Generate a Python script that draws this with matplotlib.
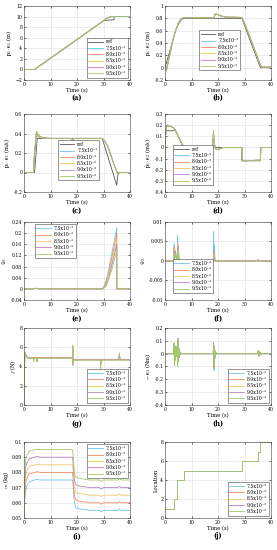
import matplotlib
matplotlib.use("Agg")
import matplotlib.pyplot as plt

# series names and colours
names = ["7.5", "8.0", "8.5", "9.0", "9.5"]
colors = ["#6fc3ec", "#f28c5e", "#f5c46a", "#b784c4", "#9fca6a"]
ref_color = "#555555"
time_ticks = [0, 10, 20, 30, 40]

# (a) p1.e1
a_t_ref = [0, 4, 30, 31, 34, 34, 40]
a_y_ref = [0, 0, 9.2, 9.3, 9.4, 10, 10]
a_t = [0, 4, 30, 31, 32, 33, 40]
a_y = [0, 0, 9.2, 9.6, 9.85, 10, 10]

# (b) p1.e2
b_t_ref = [0, 1, 2, 3, 4, 5, 6, 7, 29, 36, 40]
b_y_ref = [0, 0.15, 0.3, 0.45, 0.6, 0.7, 0.77, 0.8, 0.8, 0, 0]
b_t = [0, 0.5, 1, 2, 3, 4, 5, 6, 7, 18.5, 19, 20, 21, 22, 23, 29, 30, 32, 34, 36, 36.5, 40]
b_y = [0, -0.05, 0.05, 0.25, 0.45, 0.6, 0.72, 0.79, 0.81, 0.81, 0.875, 0.86, 0.84,
       0.83, 0.82, 0.815, 0.72, 0.5, 0.27, 0.04, 0.01, 0.01]

# (c) p1dot.e1
c_t_ref = [0, 4, 5, 29.5, 35, 35.5, 40]
c_y_ref = [0, 0, 0.35, 0.35, -0.13, 0, 0]
c_t = [0, 3.6, 3.7, 4.7, 4.9, 5.1, 5.3, 5.5, 5.8, 6.2, 7, 10, 17.5, 18, 18.5, 19,
       29, 30, 31, 32, 33, 34, 35, 35.5, 36, 40]
c_y = [0, 0, 0.1, 0.42, 0.38, 0.41, 0.37, 0.39, 0.36, 0.37, 0.355, 0.35, 0.35, 0.345,
       0.335, 0.35, 0.35, 0.34, 0.30, 0.24, 0.16, 0.08, 0.01, -0.02, 0, 0]

# (d) p1dot.e2
d_t_ref = [0, 4, 7, 29, 29, 36, 36, 40]
d_y_ref = [0.15, 0.15, 0, 0, -0.12, -0.12, 0, 0]
d_t = [0, 0.2, 0.5, 1, 1.5, 2, 3, 3.5, 4, 5, 6, 7, 7.5, 18, 18.3, 18.5, 19, 19.5,
       21, 22, 29, 29.3, 30, 35, 36, 36.2, 40]
d_y = [-0.3, 0.1, 0.18, 0.2, 0.19, 0.19, 0.18, 0.17, 0.15, 0.1, 0.05, 0.01, 0, 0,
       0.15, 0.05, -0.01, -0.02, -0.01, 0, 0, -0.12, -0.12, -0.115, -0.115, 0, 0]

# (e) Psi1
e_t = [0, 3.5, 4, 4.5, 5, 5.5, 29.5, 30, 31, 32, 33, 34, 35, 35, 40]
e_y = [
    [0, 0, 0.002, 0.001, 0.002, 0, 0, 0.005, 0.03, 0.07, 0.12, 0.17, 0.22, 0, 0],
    [0, 0, 0.002, 0.001, 0.002, 0, 0, 0.004, 0.025, 0.06, 0.105, 0.15, 0.20, 0, 0],
    [0, 0, 0.002, 0.001, 0.002, 0, 0, 0.003, 0.02, 0.05, 0.09, 0.135, 0.18, 0, 0],
    [0, 0, 0.002, 0.001, 0.002, 0, 0, 0.002, 0.015, 0.04, 0.08, 0.12, 0.16, 0, 0],
    [0, 0, 0.002, 0.001, 0.002, 0, 0, 0.001, 0.01, 0.035, 0.065, 0.10, 0.14, 0, 0],
]

# (f) Psi2
f_t = [0, 3.3, 3.45, 3.6, 3.75, 4.6, 4.75, 4.9, 5.05, 5.3, 18.2, 18.35, 18.5, 18.65,
       18.9, 34.8, 35, 35.3, 40]
f_y = [
    [0, 0, 0.0043, 0.001, 0.003, 0, 0.0065, 0.001, 0.004, 0, 0, 0.0075, 0.002, 0.004, 0, 0, 0.0005, 0, 0],
    [0, 0, 0.0035, 0.001, 0.0025, 0, 0.0045, 0.001, 0.003, 0, 0, 0.0025, 0.001, 0.0015, 0, 0, 0.0004, 0, 0],
    [0, 0, 0.003, 0.001, 0.002, 0, 0.004, 0.001, 0.0025, 0, 0, 0.0015, 0.0005, 0.001, 0, 0, 0.0003, 0, 0],
    [0, 0, 0.0025, 0.0005, 0.0018, 0, 0.0035, 0.0008, 0.002, 0, 0, 0.001, 0.0004, 0.0008, 0, 0, 0.0002, 0, 0],
    [0, 0, 0.002, 0.0005, 0.0015, 0, 0.003, 0.0005, 0.0018, 0, 0, 0.0008, 0.0003, 0.0005, 0, 0, 0.0002, 0, 0],
]

# (g) f
g_t = [0, 0.3, 0.6, 1, 1.5, 3, 3.5, 3.6, 3.8, 4.8, 4.9, 5.1, 6, 18.3, 18.4, 18.5,
       18.6, 18.8, 19.5, 28.8, 28.9, 29.1, 35.8, 36, 36.2, 36.4, 40]
g_y = [
    [0, 5.4, 5.2, 5.0, 4.95, 4.95, 4.95, 4.7, 4.95, 4.95, 4.6, 4.95, 4.95, 4.95, 5.8, 4.1, 4.5, 4.75, 4.75, 4.75, 4.4, 4.75, 4.75, 5.2, 4.75, 4.75, 4.75],
    [0, 5.4, 5.2, 5.0, 4.93, 4.93, 4.93, 4.65, 4.93, 4.93, 4.6, 4.93, 4.93, 4.93, 5.9, 4.2, 4.5, 4.72, 4.72, 4.72, 4.2, 4.72, 4.72, 5.25, 4.72, 4.72, 4.72],
    [0, 5.45, 5.25, 5.0, 4.9, 4.9, 4.9, 4.6, 4.9, 4.9, 4.55, 4.9, 4.9, 4.9, 6.0, 4.3, 4.55, 4.7, 4.7, 4.7, 4.0, 4.7, 4.7, 5.3, 4.7, 4.7, 4.7],
    [0, 5.45, 5.25, 5.0, 4.88, 4.88, 4.88, 4.55, 4.88, 4.88, 4.5, 4.88, 4.88, 4.88, 6.1, 4.4, 4.55, 4.68, 4.68, 4.68, 3.9, 4.68, 4.68, 5.35, 4.68, 4.68, 4.68],
    [0, 5.5, 5.3, 5.05, 4.86, 4.86, 4.86, 4.5, 4.86, 4.86, 4.5, 4.86, 4.86, 4.86, 6.2, 4.45, 4.6, 4.66, 4.66, 4.66, 3.7, 4.66, 4.66, 5.4, 4.66, 4.66, 4.66],
]

# (h) tau.e3
h_t = [0, 3.3, 3.45, 3.6, 3.75, 3.9, 4.05, 4.2, 4.4, 4.6, 4.75, 4.9, 5.05, 5.2, 5.35,
       5.5, 5.7, 5.9, 6.2, 18.2, 18.35, 18.5, 18.65, 18.8, 18.95, 19.1, 19.3, 19.6,
       20, 35, 35.2, 35.4, 35.6, 35.8, 36, 36.3, 36.7, 37.2, 40]
h_y = [
    [0, 0, 0.07, -0.08, 0.05, -0.04, 0.03, -0.02, 0, 0.06, -0.09, 0.12, -0.06, 0.04, -0.03, 0.02, -0.01, 0.005, 0,
     0, 0.09, -0.13, 0.06, -0.04, 0.02, -0.01, 0.005, 0, 0,
     0, 0.02, -0.02, 0.015, -0.01, 0.008, -0.005, 0.003, 0, 0],
    [0, 0, 0.075, -0.085, 0.055, -0.045, 0.03, -0.02, 0, 0.055, -0.095, 0.11, -0.06, 0.04, -0.03, 0.02, -0.01, 0.005, 0,
     0, 0.08, -0.11, 0.055, -0.035, 0.02, -0.01, 0.005, 0, 0,
     0, 0.02, -0.02, 0.015, -0.01, 0.008, -0.005, 0.003, 0, 0],
    [0, 0, 0.08, -0.09, 0.06, -0.05, 0.03, -0.02, 0, 0.05, -0.1, 0.1, -0.06, 0.04, -0.03, 0.02, -0.01, 0.005, 0,
     0, 0.075, -0.1, 0.05, -0.03, 0.02, -0.01, 0.005, 0, 0,
     0, 0.02, -0.02, 0.015, -0.01, 0.008, -0.005, 0.003, 0, 0],
    [0, 0, 0.08, -0.09, 0.06, -0.05, 0.03, -0.02, 0, 0.05, -0.1, 0.1, -0.06, 0.04, -0.03, 0.02, -0.01, 0.005, 0,
     0, 0.07, -0.1, 0.05, -0.03, 0.02, -0.01, 0.005, 0, 0,
     0, 0.02, -0.02, 0.015, -0.01, 0.008, -0.005, 0.003, 0, 0],
    [0, 0, 0.085, -0.095, 0.06, -0.05, 0.035, -0.02, 0, 0.05, -0.1, 0.1, -0.065, 0.045, -0.03, 0.02, -0.01, 0.005, 0,
     0, 0.07, -0.1, 0.05, -0.03, 0.02, -0.01, 0.005, 0, 0,
     0, 0.025, -0.02, 0.015, -0.01, 0.008, -0.005, 0.003, 0, 0],
]

# (i) m
i_t = [0, 0.3, 0.6, 1, 2, 3, 4, 5, 6, 8, 18.3, 18.6, 19, 19.5, 20, 21, 23, 25, 28.5,
       29, 29.5, 30, 35.5, 36, 36.5, 37, 40]
i_y = [
    [0.05, 0.062, 0.068, 0.071, 0.074, 0.0745, 0.075, 0.0755, 0.075, 0.075, 0.075, 0.07, 0.06, 0.057, 0.0565,
     0.056, 0.0555, 0.055, 0.055, 0.054, 0.0545, 0.055, 0.055, 0.0558, 0.0552, 0.055, 0.055],
    [0.05, 0.066, 0.073, 0.076, 0.079, 0.0795, 0.08, 0.0805, 0.08, 0.08, 0.08, 0.075, 0.065, 0.062, 0.0615,
     0.061, 0.0605, 0.06, 0.06, 0.059, 0.0595, 0.06, 0.06, 0.0608, 0.0602, 0.06, 0.06],
    [0.05, 0.07, 0.078, 0.081, 0.084, 0.0845, 0.085, 0.0852, 0.085, 0.085, 0.085, 0.08, 0.07, 0.067, 0.0665,
     0.066, 0.0655, 0.065, 0.065, 0.064, 0.0645, 0.065, 0.065, 0.0658, 0.0652, 0.065, 0.065],
    [0.05, 0.074, 0.083, 0.086, 0.089, 0.0895, 0.09, 0.0905, 0.09, 0.09, 0.09, 0.085, 0.075, 0.072, 0.0715,
     0.071, 0.0705, 0.07, 0.07, 0.069, 0.0695, 0.07, 0.07, 0.0708, 0.0702, 0.07, 0.07],
    [0.05, 0.078, 0.088, 0.091, 0.094, 0.0945, 0.095, 0.0952, 0.095, 0.095, 0.095, 0.09, 0.08, 0.077, 0.0765,
     0.076, 0.0755, 0.075, 0.075, 0.074, 0.0745, 0.075, 0.075, 0.0758, 0.0752, 0.075, 0.075],
]

# (j) location
j_t = [0, 3.5, 3.5, 4.7, 4.7, 7.3, 7.3, 29, 29, 35, 35, 36, 36, 40]
j_y = [1, 1, 2, 2, 4, 4, 5, 5, 6, 6, 7, 7, 8, 8]

plt.rcParams["font.family"] = "DejaVu Serif"
plt.rcParams["mathtext.fontset"] = "cm"
plt.rcParams["font.size"] = 4

W, H = 277, 550
fig = plt.figure(figsize=(W / 100, H / 100), dpi=100)

cols = [(24, 130), (165, 271)]
rows = [(6, 80), (114, 192), (222, 300), (328, 405), (442, 518)]


def make_ax(r, c):
    x0, x1 = cols[c]
    y0, y1 = rows[r]
    ax = fig.add_axes([x0 / W, 1 - y1 / H, (x1 - x0) / W, (y1 - y0) / H])
    ax.grid(True, color="#dddddd", linewidth=0.4)
    ax.set_axisbelow(True)
    for s in ax.spines.values():
        s.set_linewidth(0.4)
        s.set_color("#444444")
    ax.tick_params(direction="in", length=1.5, width=0.4, labelsize=3.3, pad=1.2,
                   top=True, right=True)
    ax.set_xlim(0, 40)
    ax.set_xticks(time_ticks)
    ax.set_xlabel("Time (s)", fontsize=3.8, labelpad=1.2)
    return ax


def legend_labels():
    return [f"{n}x10\u207b\u00b2" for n in names]


def add_legend(ax, **kw):
    ax.legend(fontsize=3.3, handlelength=3.2, handletextpad=0.6, borderpad=0.35,
              labelspacing=0.3, framealpha=1, edgecolor="#444444", fancybox=False,
              **kw).get_frame().set_linewidth(0.4)


def sub_label(ax, txt):
    ax.text(0.5, -0.19, txt, transform=ax.transAxes, ha="center", va="top",
            fontsize=4.8, fontweight="bold")


def y_label(ax, txt):
    ax.set_ylabel(txt, fontsize=3.8, labelpad=0.8)


lw = 0.6

# (a)
ax = make_ax(0, 0)
ax.plot(a_t_ref, a_y_ref, color=ref_color, lw=lw, label="ref")
for k in range(5):
    ax.plot(a_t, a_y, color=colors[k], lw=lw, label=legend_labels()[k])
ax.set_ylim(-2, 12)
ax.set_yticks(range(-2, 13, 2))
y_label(ax, r"$\mathbf{p}_1\cdot\mathbf{e}_1$ (m)")
add_legend(ax, loc="lower right", bbox_to_anchor=(1.0, 0.0))
sub_label(ax, "(a)")

# (b)
ax = make_ax(0, 1)
ax.plot(b_t_ref, b_y_ref, color=ref_color, lw=lw, label="ref")
for k in range(5):
    ax.plot(b_t, b_y, color=colors[k], lw=lw, label=legend_labels()[k])
ax.set_ylim(-0.2, 1)
ax.set_yticks([-0.2, 0, 0.2, 0.4, 0.6, 0.8, 1])
ax.set_yticklabels(["-0.2", "0", "0.2", "0.4", "0.6", "0.8", "1"])
y_label(ax, r"$\mathbf{p}_1\cdot\mathbf{e}_2$ (m)")
add_legend(ax, loc="lower left", bbox_to_anchor=(0.3, 0.1))
sub_label(ax, "(b)")

# (c)
ax = make_ax(1, 0)
ax.plot(c_t_ref, c_y_ref, color=ref_color, lw=lw, label="ref")
for k in range(5):
    ax.plot(c_t, c_y, color=colors[k], lw=lw, label=legend_labels()[k])
ax.set_ylim(-0.2, 0.6)
ax.set_yticks([-0.2, 0, 0.2, 0.4, 0.6])
ax.set_yticklabels(["-0.2", "0", "0.2", "0.4", "0.6"])
y_label(ax, r"$\dot{\mathbf{p}}_1\cdot\mathbf{e}_1$ (m/s)")
add_legend(ax, loc="lower left", bbox_to_anchor=(0.3, 0.12))
sub_label(ax, "(c)")

# (d)
ax = make_ax(1, 1)
ax.plot(d_t_ref, d_y_ref, color=ref_color, lw=lw, label="ref")
for k in range(5):
    ax.plot(d_t, d_y, color=colors[k], lw=lw, label=legend_labels()[k])
ax.set_ylim(-0.4, 0.3)
ax.set_yticks([-0.4, -0.3, -0.2, -0.1, 0, 0.1, 0.2, 0.3])
ax.set_yticklabels(["-0.4", "-0.3", "-0.2", "-0.1", "0", "0.1", "0.2", "0.3"])
y_label(ax, r"$\dot{\mathbf{p}}_1\cdot\mathbf{e}_2$ (m/s)")
add_legend(ax, loc="lower left", bbox_to_anchor=(0.05, 0.06))
sub_label(ax, "(d)")

# (e)
ax = make_ax(2, 0)
for k in range(5):
    ax.plot(e_t, e_y[k], color=colors[k], lw=lw, label=legend_labels()[k])
ax.set_ylim(-0.04, 0.24)
ax.set_yticks([-0.04, 0, 0.04, 0.08, 0.12, 0.16, 0.2, 0.24])
ax.set_yticklabels(["-0.04", "0", "0.04", "0.08", "0.12", "0.16", "0.2", "0.24"])
y_label(ax, r"$\Psi_1$")
add_legend(ax, loc="upper left", bbox_to_anchor=(0.08, 1.0))
sub_label(ax, "(e)")

# (f)
ax = make_ax(2, 1)
for k in range(5):
    ax.plot(f_t, f_y[k], color=colors[k], lw=lw, label=legend_labels()[k])
ax.set_ylim(-0.01, 0.01)
ax.set_yticks([-0.01, -0.005, 0, 0.005, 0.01])
ax.set_yticklabels(["-0.01", "-0.005", "0", "0.005", "0.01"])
y_label(ax, r"$\Psi_2$")
add_legend(ax, loc="lower left", bbox_to_anchor=(0.05, 0.06))
sub_label(ax, "(f)")

# (g)
ax = make_ax(3, 0)
for k in range(5):
    ax.plot(g_t, g_y[k], color=colors[k], lw=lw, label=legend_labels()[k])
ax.set_ylim(0, 8)
ax.set_yticks([0, 2, 4, 6, 8])
y_label(ax, r"$f$ (N)")
add_legend(ax, loc="lower right")
sub_label(ax, "(g)")

# (h)
ax = make_ax(3, 1)
for k in range(5):
    ax.plot(h_t, h_y[k], color=colors[k], lw=lw, label=legend_labels()[k])
ax.set_ylim(-0.4, 0.2)
ax.set_yticks([-0.4, -0.3, -0.2, -0.1, 0, 0.1, 0.2])
ax.set_yticklabels(["-0.4", "-0.3", "-0.2", "-0.1", "0", "0.1", "0.2"])
y_label(ax, r"$\tau\cdot\mathbf{e}_3$ (Nm)")
add_legend(ax, loc="lower right")
sub_label(ax, "(h)")

# (i)
ax = make_ax(4, 0)
for k in range(5):
    ax.plot(i_t, i_y[k], color=colors[k], lw=lw, label=legend_labels()[k])
ax.set_ylim(0.05, 0.1)
ax.set_yticks([0.05, 0.06, 0.07, 0.08, 0.09, 0.1])
ax.set_yticklabels(["0.05", "0.06", "0.07", "0.08", "0.09", "0.1"])
y_label(ax, r"$m$ (kg)")
add_legend(ax, loc="upper right")
sub_label(ax, "(i)")

# (j)
ax = make_ax(4, 1)
for k in range(5):
    ax.plot(j_t, j_y, color=colors[k], lw=lw, label=legend_labels()[k])
ax.set_ylim(0, 8)
ax.set_yticks([0, 2, 4, 6, 8])
y_label(ax, "Location")
add_legend(ax, loc="lower right")
sub_label(ax, "(j)")

fig.savefig("out.png", dpi=100)
